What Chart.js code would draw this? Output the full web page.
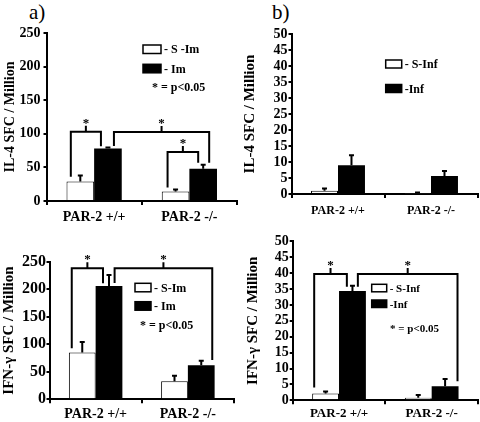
<!DOCTYPE html>
<html>
<head>
<meta charset="utf-8">
<script src="https://cdn.jsdelivr.net/npm/chart.js@4.4.1/dist/chart.umd.min.js"></script>
<style>
  body { margin: 0; width: 480px; height: 422px; background: #fff; position: relative; overflow: hidden; font-family: 'Liberation Serif', 'Times New Roman', serif; }
  canvas { position: absolute; }
  .tag { position: absolute; font-size: 21px; line-height: 24px; color: #000; }
</style>
</head>
<body>
<div class="tag" style="left:29px; top:0px">a)</div>
<div class="tag" style="left:272px; top:0px">b)</div>
<canvas id="chartA" width="240" height="230" style="left:0; top:0"></canvas>
<canvas id="chartB" width="240" height="225" style="left:240px; top:0"></canvas>
<canvas id="chartC" width="240" height="192" style="left:0; top:230px"></canvas>
<canvas id="chartD" width="240" height="192" style="left:240px; top:230px"></canvas>
<script>
const groups = ['PAR-2 +/+', 'PAR-2 -/-']
const im_ticks = [0, 50, 100, 150, 200, 250]
const inf_ticks = [0, 5, 10, 15, 20, 25, 30, 35, 40, 45, 50]

// a) IL-4, immunised
const il4_sim = [29, 14]
const il4_sim_err = [9, 3]
const il4_im = [78, 48]
const il4_im_err = [1.5, 6]

// b) IL-4, infected
const il4_sinf = [1.0, 0.2]
const il4_sinf_err = [0.7, 0.3]
const il4_inf = [9.0, 5.6]
const il4_inf_err = [3.1, 1.6]

// c) IFN-g, immunised
const ifn_sim = [85, 33]
const ifn_sim_err = [19, 10]
const ifn_im = [206, 62]
const ifn_im_err = [20, 8]

// d) IFN-g, infected
const ifn_sinf = [2.1, 0.8]
const ifn_sinf_err = [0.7, 0.9]
const ifn_inf = [34.4, 4.4]
const ifn_inf_err = [1.6, 2.3]

const FONT = "'Liberation Serif', 'Times New Roman', serif"

// error bars, significance brackets and the little legend box
const extras = {
  id: 'extras',
  afterDatasetsDraw(chart, args, o) {
    const ctx = chart.ctx
    const y = chart.scales.y
    ctx.save()
    ctx.strokeStyle = '#000'
    ctx.fillStyle = '#000'
    ctx.lineWidth = 2

    o.err.forEach((errs, i) => {
      const ds = chart.data.datasets[i]
      chart.getDatasetMeta(i).data.forEach((bar, j) => {
        const top = y.getPixelForValue(ds.data[j] + errs[j])
        ctx.beginPath()
        ctx.moveTo(bar.x, bar.y)
        ctx.lineTo(bar.x, top)
        ctx.moveTo(bar.x - 2.5, top)
        ctx.lineTo(bar.x + 2.5, top)
        ctx.stroke()
      })
    })

    ctx.font = 'bold 13px ' + FONT
    ctx.textAlign = 'center'
    ctx.textBaseline = 'alphabetic'
    o.brackets.forEach(b => {
      const [l, r, topVal] = b
      const x1 = chart.getDatasetMeta(l[0]).data[l[1]].x + l[2]
      const x2 = chart.getDatasetMeta(r[0]).data[r[1]].x + r[2]
      const yt = y.getPixelForValue(topVal)
      const mid = (x1 + x2) / 2
      ctx.beginPath()
      ctx.moveTo(x1, y.getPixelForValue(l[3]))
      ctx.lineTo(x1, yt)
      ctx.lineTo(x2, yt)
      ctx.lineTo(x2, y.getPixelForValue(r[3]))
      ctx.moveTo(mid, yt)
      ctx.lineTo(mid, yt - 6)
      ctx.stroke()
      ctx.fillText('*', mid, yt - 5)
    })

    const lg = o.legend
    ctx.font = 'bold ' + lg.size + 'px ' + FONT
    ctx.textAlign = 'left'
    ctx.textBaseline = 'middle'
    chart.data.datasets.forEach((ds, i) => {
      const by = lg.y + i * lg.gap
      ctx.fillStyle = ds.backgroundColor
      ctx.fillRect(lg.x, by, lg.w, lg.h)
      ctx.lineWidth = 1.5
      ctx.strokeStyle = '#000'
      ctx.strokeRect(lg.x, by, lg.w, lg.h)
      ctx.fillStyle = '#000'
      ctx.fillText(ds.label, lg.x + lg.w + 3, by + lg.h / 2 + 1)
    })
    if (lg.note) ctx.fillText('* = p<0.05', lg.note[0], lg.note[1])
    ctx.restore()
  }
}

function panel(id, p) {
  const canvas = document.getElementById(id)
  const w = canvas.width, h = canvas.height
  return new Chart(canvas, {
    type: 'bar',
    data: {
      labels: groups,
      datasets: [
        { label: p.names[0], data: p.sham, backgroundColor: '#fff', borderColor: '#000', borderWidth: 1 },
        { label: p.names[1], data: p.treat, backgroundColor: '#000', borderColor: '#000', borderWidth: 0 }
      ]
    },
    options: {
      responsive: false,
      animation: false,
      layout: { padding: { left: 0, bottom: 0, top: p.area.top, right: w - p.area.right } },
      datasets: { bar: { categoryPercentage: 0.58, barPercentage: 1.0 } },
      scales: {
        x: {
          afterFit: s => { s.height = h - p.area.bottom },
          border: { display: true, color: '#000', width: 2 },
          grid: { drawOnChartArea: false, drawTicks: true, tickLength: 4, color: '#000', lineWidth: 2 },
          ticks: { color: '#000', padding: p.xPad, font: { family: FONT, size: p.xFont, weight: 'bold' } }
        },
        y: {
          min: p.ticks[0],
          max: p.ticks[p.ticks.length - 1],
          afterFit: s => { s.width = p.area.left },
          border: { display: true, color: '#000', width: 2 },
          grid: { drawOnChartArea: false, drawTicks: true, tickLength: 3, color: '#000', lineWidth: 2 },
          ticks: {
            stepSize: p.ticks[1] - p.ticks[0],
            autoSkip: false,
            color: '#000',
            padding: p.yPad,
            font: { family: FONT, size: p.yFont, weight: 'bold' }
          },
          title: {
            display: true,
            text: p.title,
            color: '#000',
            padding: { top: p.titlePad, bottom: 0 },
            font: { family: FONT, size: p.titleSize, weight: 'bold' }
          }
        }
      },
      plugins: {
        legend: { display: false },
        tooltip: { enabled: false },
        extras: { err: p.err, brackets: p.brackets, legend: p.legend }
      }
    },
    plugins: [extras]
  })
}

panel('chartA', {
  sham: il4_sim, treat: il4_im, err: [il4_sim_err, il4_im_err],
  names: ['- S -Im', '- Im'], ticks: im_ticks, title: 'IL-4 SFC / Million',
  area: { left: 46.5, top: 33, right: 237, bottom: 201 },
  yFont: 14, yPad: 3, xFont: 14, xPad: 4, titleSize: 14, titlePad: 2,
  brackets: [
    [[0, 0, -9.5, 36], [1, 0, -7, 81.6], 103],
    [[1, 0, 6, 82], [1, 1, 6, 57], 102.5],
    [[0, 1, -8, 20], [1, 1, -5, 57], 73]
  ],
  legend: { x: 143, y: 45, w: 18, h: 8.5, gap: 19.3, size: 12, note: [152, 88] }
})

panel('chartB', {
  sham: il4_sinf, treat: il4_inf, err: [il4_sinf_err, il4_inf_err],
  names: ['- S-Inf', '-Inf'], ticks: inf_ticks, title: 'IL-4 SFC / Million',
  area: { left: 51.5, top: 34, right: 237.5, bottom: 194 },
  yFont: 14, yPad: 1, xFont: 12, xPad: 6, titleSize: 15, titlePad: 1.5,
  brackets: [],
  legend: { x: 145.7, y: 60, w: 16, h: 8, gap: 24.5, size: 12, note: null }
})

panel('chartC', {
  sham: ifn_sim, treat: ifn_im, err: [ifn_sim_err, ifn_im_err],
  names: ['- S-Im', '- Im'], ticks: im_ticks, title: 'IFN-γ SFC / Million',
  area: { left: 49.5, top: 31.7, right: 234, bottom: 169.3 },
  yFont: 16, yPad: 0.5, xFont: 14, xPad: 3, titleSize: 15, titlePad: 0.5,
  brackets: [
    [[0, 0, -10.5, 92.7], [1, 0, -6, 211], 238],
    [[1, 0, 5.6, 211.5], [1, 1, 11, 71.5], 238]
  ],
  legend: { x: 135, y: 53.3, w: 16, h: 8.5, gap: 18.4, size: 12, note: [140, 95.7] }
})

panel('chartD', {
  sham: ifn_sinf, treat: ifn_inf, err: [ifn_sinf_err, ifn_inf_err],
  names: ['- S-Inf', '-Inf'], ticks: inf_ticks, title: 'IFN-γ SFC / Million',
  area: { left: 52.7, top: 11.3, right: 238, bottom: 170.3 },
  yFont: 14, yPad: 1, xFont: 13, xPad: 2, titleSize: 15, titlePad: 4.5,
  brackets: [
    [[0, 0, -11.4, 4], [1, 0, -5.6, 35.7], 39.7],
    [[1, 0, 5.4, 35.7], [1, 1, 12.4, 6], 39.7]
  ],
  legend: { x: 131.7, y: 54.3, w: 15, h: 7.5, gap: 15.7, size: 11, note: [150, 99] }
})
</script>
</body>
</html>
